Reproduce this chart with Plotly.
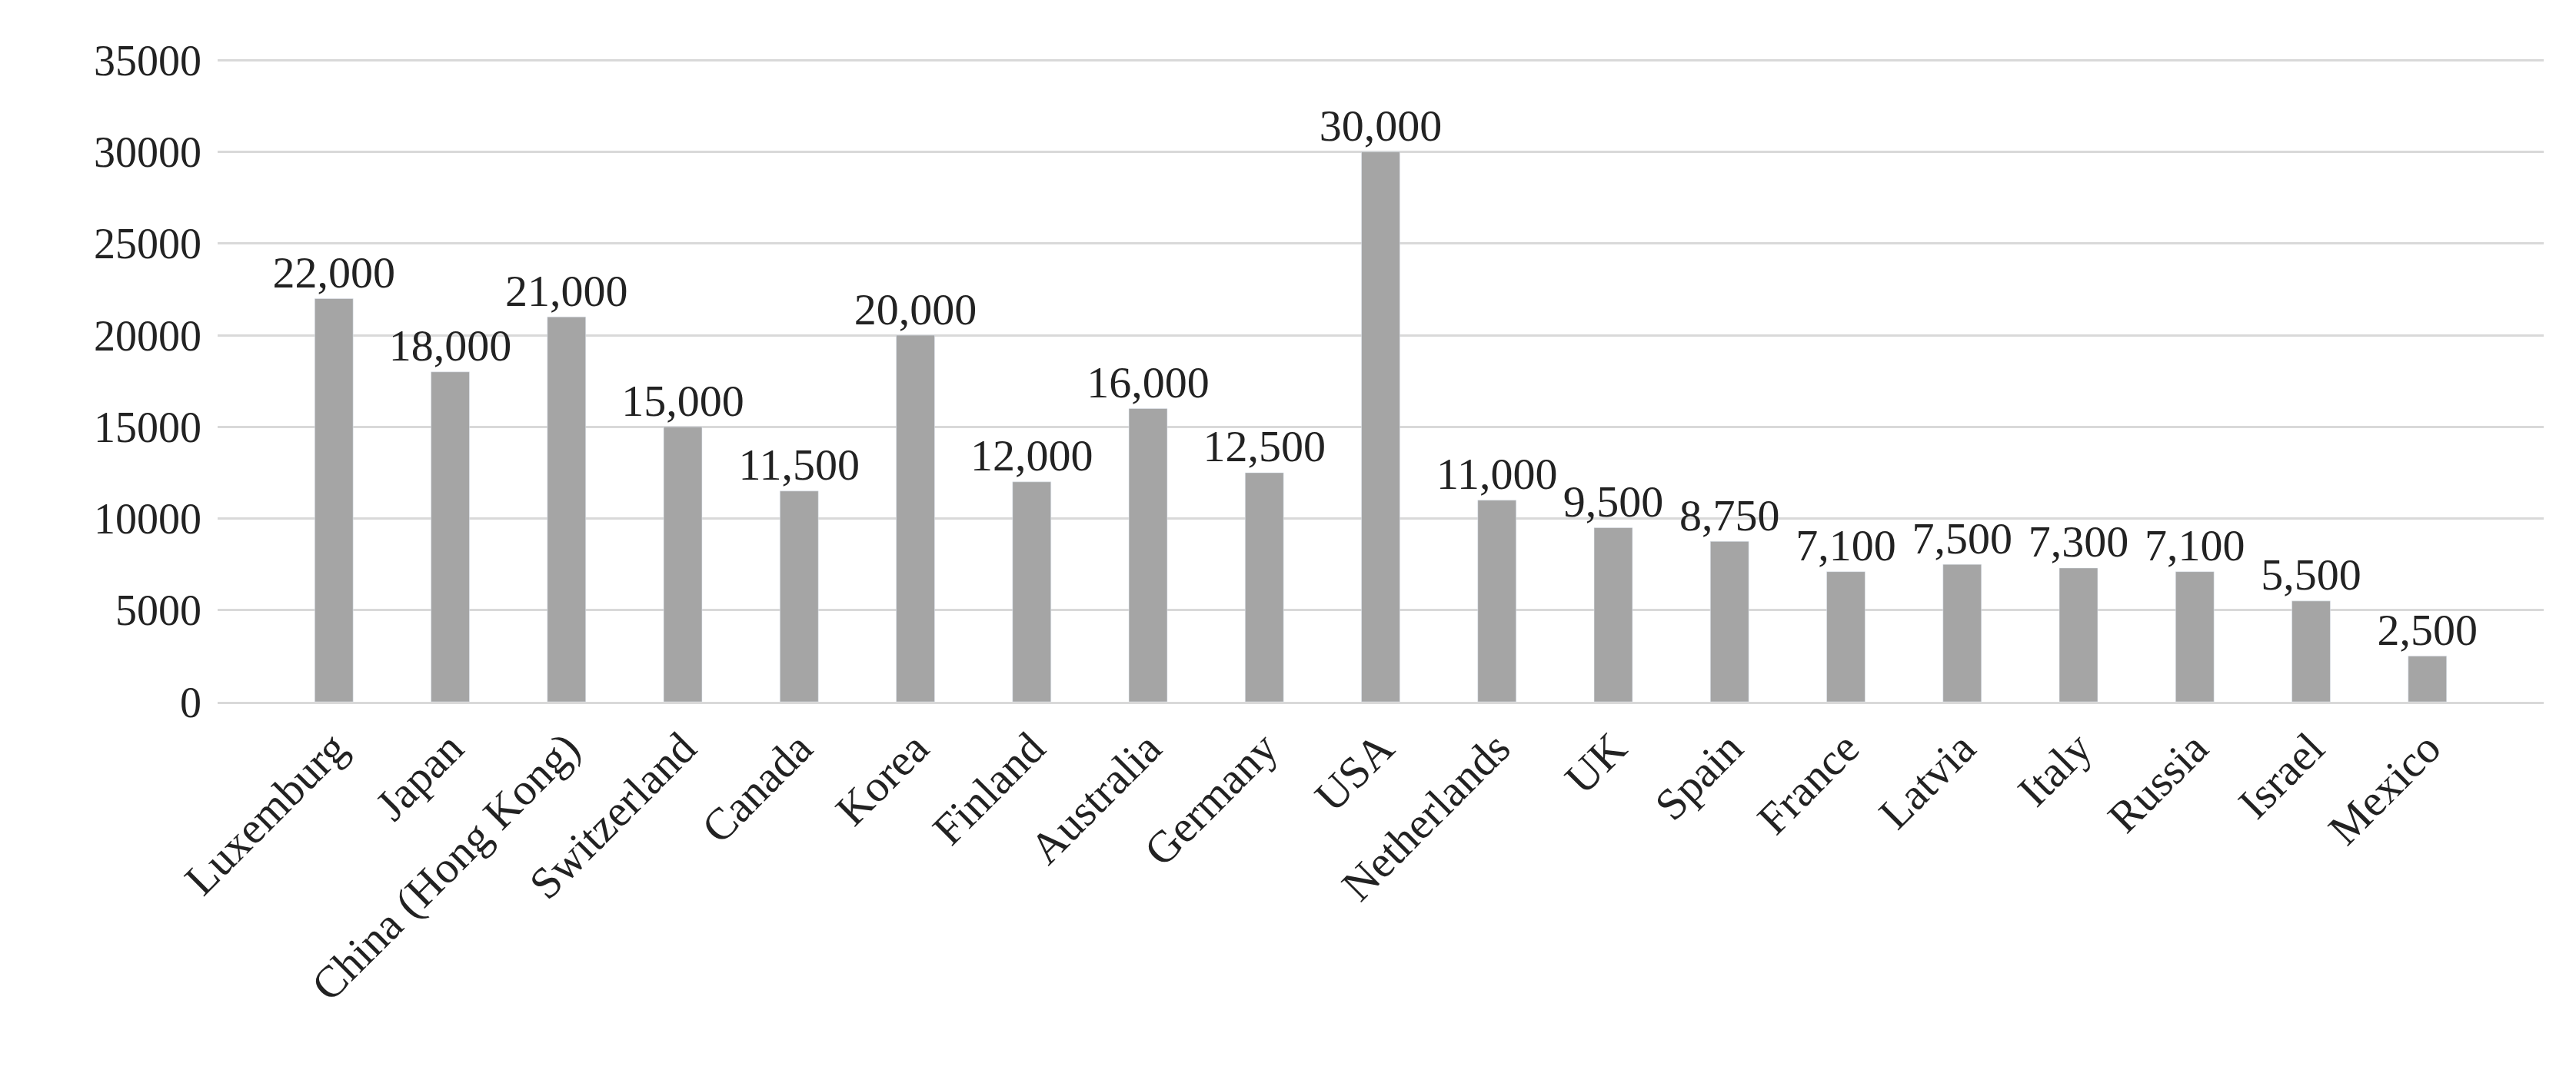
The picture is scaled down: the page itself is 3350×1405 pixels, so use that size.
import plotly.graph_objects as go

countries = ["Luxemburg","Japan","China (Hong Kong)","Switzerland","Canada","Korea","Finland",
             "Australia","Germany","USA","Netherlands","UK","Spain","France","Latvia","Italy",
             "Russia","Israel","Mexico"]
values = [22000,18000,21000,15000,11500,20000,12000,16000,12500,30000,11000,9500,8750,7100,
          7500,7300,7100,5500,2500]
labels = [f"{v:,}" for v in values]
yticks = [0,5000,10000,15000,20000,25000,30000,35000]

fig = go.Figure()
fig.add_trace(go.Bar(x=countries, y=values, marker_color="#a5a5a5", width=0.33,
                     hoverinfo="skip"))
fig.add_trace(go.Scatter(x=countries, y=values, mode="text", text=labels,
                         textposition="top center", cliponaxis=False,
                         textfont=dict(family="Liberation Serif", size=58, color="#222222")))
fig.update_layout(
    width=3350, height=1405, plot_bgcolor="white", paper_bgcolor="white",
    margin=dict(l=275, r=50, t=68, b=500),
    font=dict(family="Liberation Serif", size=56, color="#222222"),
    showlegend=False,
)
fig.update_yaxes(range=[0,35100], tickvals=yticks, ticktext=[str(t) for t in yticks],
                 showgrid=True, gridcolor="#d9d9d9", gridwidth=3, zeroline=False,
                 showline=False, ticks="", ticklabelstandoff=20)
fig.update_xaxes(tickangle=-45, showline=True, linecolor="#d9d9d9", linewidth=3, ticks="",
                 tickfont=dict(size=58))
fig.write_html("out.html")
